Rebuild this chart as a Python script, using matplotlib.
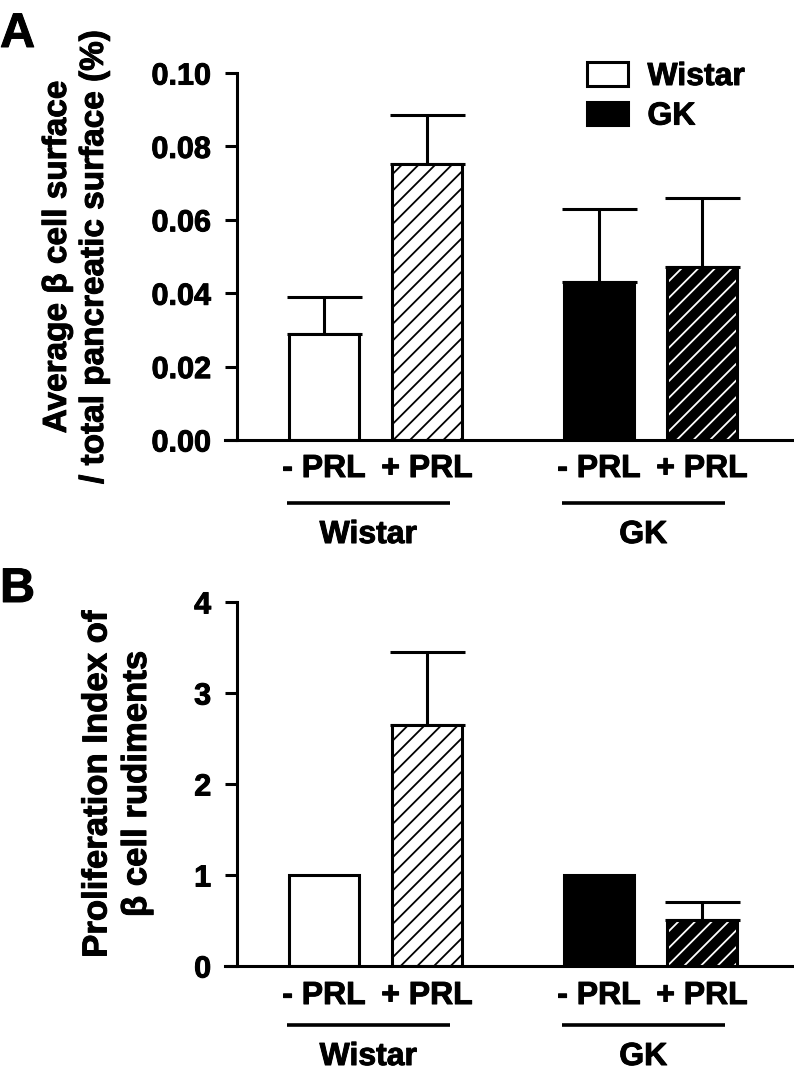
"""
Beta cell surface and proliferation index, Wistar vs GK, with/without PRL.
Two stacked bar panels in the GraphPad style (bold Arial-like text).
"""

import numpy as np
import matplotlib
matplotlib.use("Agg")
import matplotlib.pyplot as plt
import matplotlib.patheffects as pe
from matplotlib.patches import Patch
from matplotlib.text import Text

plt.rcParams['font.family'] = ['Liberation Sans', 'DejaVu Sans']
plt.rcParams['font.weight'] = 'bold'
plt.rcParams['hatch.linewidth'] = 1.3

# 数据
conditions = ['- PRL', '+ PRL', '- PRL', '+ PRL']
groups = ['Wistar', 'GK']

surface_mean = [0.0289, 0.0751, 0.0431, 0.0472]
surface_sem = [0.0101, 0.0136, 0.0198, 0.0187]
surface_ticks = [0.00, 0.02, 0.04, 0.06, 0.08, 0.10]

prolif_mean = [1.0, 2.645, 1.0, 0.51]
prolif_sem = [0.0, 0.805, 0.0, 0.196]
prolif_ticks = [0, 1, 2, 3, 4]

# 布局
FIG_W, FIG_H = 7.94, 10.87
LW = 2.2
FS = 22
FS_LAB = 23
pos = np.array([0.0, 1.0, 2.67, 3.67])
width = 0.68
group_pos = [(pos[0] + pos[1]) / 2, (pos[2] + pos[3]) / 2]


def draw_panel(ax, means, sems, ticks, fmt, ylabel, ylabel_x, ylabel_fs, offs):
    # 白色 / 斜线 / 黑色 / 黑底白斜线
    ax.bar(pos[0], means[0], width, facecolor='white', edgecolor='black', linewidth=LW, zorder=2)
    ax.bar(pos[1], means[1], width, facecolor='white', edgecolor='black', linewidth=LW,
           hatch='//', zorder=2)
    ax.bar(pos[2], means[2], width, facecolor='black', edgecolor='black', linewidth=LW, zorder=2)
    ax.bar(pos[3], means[3], width, facecolor='black', edgecolor='white', linewidth=0,
           hatch='//', zorder=2)
    ax.bar(pos[3], means[3], width, fill=False, edgecolor='black', linewidth=LW, zorder=3)

    # 只画上误差线
    for x, m, s in zip(pos, means, sems):
        if s > 0:
            ax.errorbar(x, m, yerr=[[0], [s]], fmt='none', ecolor='black', elinewidth=LW,
                        capsize=27, capthick=LW, zorder=1)

    ax.set_xlim(-0.961, 4.544)
    ax.set_ylim(ticks[0], ticks[-1])
    ax.set_yticks(ticks)
    ax.set_yticklabels([fmt.format(t) for t in ticks])
    ax.set_xticks([])

    for side in ['top', 'right']:
        ax.spines[side].set_visible(False)
    ax.spines['left'].set_position(('data', -0.845))
    ax.spines['left'].set_linewidth(LW)
    ax.spines['bottom'].set_linewidth(LW)
    ax.tick_params(axis='y', direction='out', length=8.6, width=LW, pad=10, labelsize=FS)

    ax.set_ylabel(ylabel, fontsize=ylabel_fs, fontweight='bold', linespacing=1.25)
    ax.yaxis.set_label_coords(ylabel_x, 0.5)

    # 条件标签、分组横线、分组名 (像素偏移 -> 轴坐标)
    h_px = ax.get_position().height * FIG_H * 100
    lab_y, line_y, grp_y = [-o / h_px for o in offs]
    trans = ax.get_xaxis_transform()
    for x, lab in zip(pos, conditions):
        ax.text(x, lab_y, lab, transform=trans, ha='center', va='top', fontsize=FS_LAB)
    for gx, g in zip(group_pos, groups):
        cx = gx - 0.07
        ax.plot([cx - 0.79, cx + 0.79], [line_y, line_y], transform=trans, color='black',
                lw=2.6, clip_on=False, solid_capstyle='butt')
        ax.text(cx, grp_y, g, transform=trans, ha='center', va='top', fontsize=FS_LAB)


fig = plt.figure(figsize=(FIG_W, FIG_H), dpi=100)
ax_a = fig.add_axes([0.2834, 0.5952, 0.7141, 0.3376])
ax_b = fig.add_axes([0.2834, 0.1113, 0.7141, 0.3349])

draw_panel(ax_a, surface_mean, surface_sem, surface_ticks, '{:.2f}',
           'Average β cell surface\n/ total pancreatic surface (%)', -0.203, 24,
           (14, 63, 80))
draw_panel(ax_b, prolif_mean, prolif_sem, prolif_ticks, '{:d}',
           'Proliferation Index of\nβ cell rudiments', -0.127, 25,
           (15, 59, 76))

handles = [Patch(facecolor='white', edgecolor='black', linewidth=LW),
           Patch(facecolor='black', edgecolor='black', linewidth=LW)]
fig.legend(handles, groups, loc='upper left', bbox_to_anchor=(0.739, 1 - 62 / 1087),
           frameon=False, fontsize=FS_LAB, handlelength=1.3, handleheight=0.75,
           handletextpad=0.6, labelspacing=0.3, borderpad=0, borderaxespad=0)

fig.text(0.0, 1 - 47 / 1087, 'A', fontsize=35, fontweight='bold', va='baseline')
fig.text(0.0, 1 - 602 / 1087, 'B', fontsize=35, fontweight='bold', va='baseline')

# 文字加粗一点，接近原图的粗体效果
for t in fig.findobj(Text):
    t.set_path_effects([pe.withStroke(linewidth=0.7, foreground='black')])

fig.savefig('out.png', dpi=100)
